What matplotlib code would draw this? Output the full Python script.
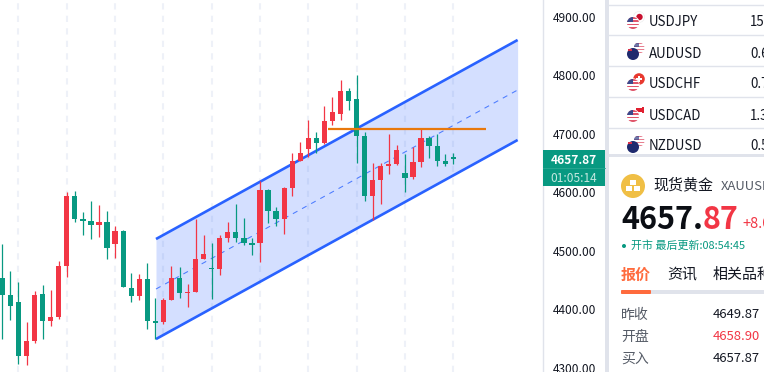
import matplotlib
matplotlib.use("Agg")
import matplotlib.pyplot as plt
from matplotlib.patches import Circle, Rectangle, FancyBboxPatch

plt.rcParams['font.family'] = ['Noto Sans CJK SC', 'DejaVu Sans']

# candles, red = up, green = down
opens = [4453.8, 4424.7, 4412.8, 4320.5, 4346.2, 4426.4, 4380.3, 4387.1, 4474.2, 4593.8,
         4554.5, 4551.1, 4544.3, 4549.4, 4511.8, 4534.0, 4436.7, 4423.0, 4452.0, 4380.3,
         4378.6, 4416.2, 4453.8, 4428.1, 4429.8, 4486.2, 4470.8, 4469.1, 4522.1, 4532.3,
         4522.1, 4513.5, 4513.5, 4604.0, 4568.2, 4554.4, 4607.4, 4653.5, 4674.0, 4692.8,
         4684.2, 4721.8, 4733.8, 4773.0, 4759.4, 4696.2, 4593.7, 4621.1, 4645.0, 4648.4,
         4633.0, 4626.2, 4651.8, 4692.8, 4679.1, 4653.5, 4658.9]
highs = [4511.8, 4465.7, 4446.9, 4378.6, 4431.6, 4441.8, 4433.3, 4482.8, 4600.6, 4602.3,
         4566.5, 4585.3, 4578.4, 4568.2, 4542.6, 4535.7, 4462.3, 4460.6, 4479.4, 4419.6,
         4419.6, 4474.2, 4472.5, 4443.5, 4554.5, 4527.2, 4513.5, 4527.2, 4549.4, 4580.1,
         4556.2, 4522.1, 4619.4, 4605.7, 4575.0, 4609.1, 4667.2, 4685.9, 4723.5, 4703.0,
         4747.4, 4762.8, 4791.8, 4778.2, 4800.4, 4703.0, 4650.1, 4650.1, 4699.6, 4680.8,
         4665.5, 4677.4, 4708.2, 4696.2, 4699.6, 4665.5, 4667.2]
lows = [4349.6, 4382.0, 4306.9, 4305.2, 4342.7, 4349.6, 4371.8, 4383.7, 4455.5, 4549.4,
        4527.2, 4520.3, 4523.8, 4486.2, 4487.9, 4438.4, 4412.8, 4416.2, 4366.6, 4349.6,
        4375.2, 4416.2, 4419.6, 4404.2, 4429.8, 4486.2, 4417.9, 4458.9, 4515.2, 4515.2,
        4510.1, 4493.0, 4481.1, 4547.7, 4542.6, 4528.8, 4593.7, 4653.5, 4660.3, 4667.2,
        4682.5, 4715.0, 4723.5, 4740.6, 4650.1, 4585.2, 4552.7, 4580.1, 4631.3, 4646.7,
        4600.6, 4622.8, 4643.3, 4658.6, 4645.0, 4645.0, 4648.4]
closes = [4424.7, 4405.9, 4320.5, 4346.2, 4424.7, 4380.3, 4387.1, 4474.2, 4593.8, 4554.5,
          4551.1, 4544.3, 4549.4, 4505.0, 4534.0, 4438.4, 4423.0, 4452.0, 4380.3, 4376.9,
          4416.2, 4453.8, 4428.1, 4429.8, 4486.2, 4494.7, 4469.1, 4522.1, 4532.3, 4522.1,
          4513.5, 4510.1, 4604.0, 4568.2, 4554.5, 4607.4, 4653.5, 4667.2, 4692.8, 4684.2,
          4721.8, 4737.2, 4773.0, 4756.0, 4696.2, 4593.7, 4621.1, 4645.0, 4648.4, 4672.3,
          4624.5, 4651.8, 4692.8, 4679.1, 4653.5, 4648.4, 4657.87]

# trend channel and resistance
channel_x = [19.08, 64.0]
channel_top = [4520.3, 4860.2]
channel_mid = [4434.9, 4774.8]
channel_bottom = [4349.5, 4689.4]
orange_x = [40.4, 60.1]
orange_y = [4708.2, 4708.2]

grid_idx = [2, 8, 14, 20, 26, 32, 38, 44, 50, 56]
price_ticks = [4300, 4400, 4500, 4600, 4700, 4800, 4900]

symbols = ["USDJPY", "AUDUSD", "USDCHF", "USDCAD", "NZDUSD"]
symbol_prices = ["15", "0.6", "0.7", "1.3", "0.5"]
row_names = ["昨收", "开盘", "买入"]
row_values = ["4649.87", "4658.90", "4657.87"]

UP = "#f23645"
DOWN = "#089981"
BLUE = "#2962ff"
LINE = "#e0e3eb"

fig = plt.figure(figsize=(7.64, 3.72), dpi=100)

# chart area, 0-542px wide
ax = fig.add_axes([0, 0, 542.5 / 764, 1])
ax.set_xlim(-0.298, 67.09)
ax.set_ylim(4293.2, 4928.5)
for s in ["top", "left", "bottom"]:
    ax.spines[s].set_visible(False)
ax.spines["right"].set_color(LINE)
ax.spines["right"].set_linewidth(1.0)
ax.yaxis.tick_right()
ax.set_yticks(price_ticks)
ax.set_yticklabels(["%.2f" % p for p in price_ticks], fontsize=8.6, color="#131722", va="center_baseline")
ax.tick_params(axis="y", length=0, pad=7.2)
ax.set_xticks([])

for g in grid_idx:
    ax.axvline(g, color="#eef1f8", lw=1.5, ls=(0, (3, 3)), zorder=1)

ax.fill_between(channel_x, channel_bottom, channel_top, color="#2962ff", alpha=0.2, lw=0, zorder=2)
ax.plot(channel_x, channel_top, color=BLUE, lw=1.9, zorder=3, solid_capstyle="butt")
ax.plot(channel_x, channel_bottom, color=BLUE, lw=1.9, zorder=3, solid_capstyle="butt")
ax.plot(channel_x, channel_mid, color=BLUE, lw=0.75, ls=(0, (5, 5)), alpha=0.8, zorder=3)

for i in range(len(opens)):
    col = UP if closes[i] >= opens[i] else DOWN
    ax.vlines(i, lows[i], highs[i], color=col, lw=0.9, zorder=4)
    bottom = min(opens[i], closes[i])
    height = abs(closes[i] - opens[i])
    if height < 2.5:
        # doji, keep it visible as a small dash
        bottom = bottom - (2.5 - height) / 2
        height = 2.5
    ax.bar(i, height, bottom=bottom, width=0.65, color=col, lw=0, zorder=5)

ax.plot(orange_x, orange_y, color="#e8780c", lw=1.6, zorder=6, solid_capstyle="butt")

# everything on the right is placed in pixels
px = fig.add_axes([0, 0, 1, 1])
px.set_xlim(0, 764)
px.set_ylim(372, 0)
px.axis("off")
px.patch.set_alpha(0)


def flag_us(cx, cy, r, alpha=1.0):
    base = Circle((cx, cy), r, color="#ffffff", alpha=alpha, zorder=3)
    px.add_patch(base)
    for k in range(4):
        st = Rectangle((cx - r, cy - r + k * r * 0.55), 2 * r, r * 0.28, color="#e0566b", alpha=alpha, lw=0, zorder=3.1)
        px.add_patch(st)
        st.set_clip_path(base)
    can = Rectangle((cx - r, cy - r), r, r * 0.9, color="#3c4a8c", alpha=alpha, lw=0, zorder=3.2)
    px.add_patch(can)
    can.set_clip_path(base)


def draw_icon(name, cx, cy):
    if name == "USDJPY":
        px.add_patch(Circle((cx + 6, cy - 6), 5.5, color="#ffffff", ec="#eeeeee", lw=0.5, zorder=2))
        px.add_patch(Circle((cx + 6.5, cy - 6), 3.2, color="#c8102e", lw=0, zorder=2.5))
        flag_us(cx, cy, 6)
    elif name in ("AUDUSD", "NZDUSD"):
        flag_us(cx + 6, cy - 6, 5.5, alpha=0.75)
        px.add_patch(Circle((cx, cy), 6, color="#1f2a6e", lw=0, zorder=4))
        px.add_patch(Rectangle((cx - 5, cy - 5), 4, 2, color="#d8304a", lw=0, zorder=4.1))
    elif name == "USDCHF":
        px.add_patch(Circle((cx + 6, cy - 6), 5.8, color="#e8392f", lw=0, zorder=2))
        px.add_patch(Rectangle((cx + 5, cy - 9), 2, 6, color="#ffffff", lw=0, zorder=2.1))
        px.add_patch(Rectangle((cx + 3, cy - 7), 6, 2, color="#ffffff", lw=0, zorder=2.1))
        flag_us(cx, cy, 6)
    else:
        px.add_patch(Circle((cx + 6, cy - 6), 5.5, color="#ffffff", lw=0, zorder=2))
        px.add_patch(Rectangle((cx + 3, cy - 8), 6, 4, color="#e02030", lw=0, zorder=2.1))
        px.add_patch(Rectangle((cx + 9, cy - 9), 2, 6, color="#e02030", lw=0, zorder=2.1))
        flag_us(cx, cy, 6)


# divider between axis and right panel
px.add_patch(Rectangle((605, 0), 4, 372, color="#e0e3eb", lw=0))
px.add_patch(Rectangle((609, 153.5), 155, 3.5, color="#e0e3eb", lw=0))
for yy in [4.5, 35, 66, 97, 128]:
    px.plot([609, 764], [yy, yy], color=LINE, lw=1)

for k in range(len(symbols)):
    yy = 21 + 31 * k
    draw_icon(symbols[k], 633, yy + 2)
    px.text(649, yy, symbols[k], fontsize=9.6, color="#131722", va="center_baseline", ha="left", clip_on=True)
    px.text(750, yy, symbol_prices[k], fontsize=9.6, color="#131722", va="center_baseline", ha="left", clip_on=True)

# price tag on the axis
px.add_patch(Rectangle((543, 150), 62, 36, color=DOWN, lw=0))
px.plot([543, 605], [167.5, 167.5], color="#2aa892", lw=0.6)
px.text(574, 158.5, "4657.87", fontsize=8.6, color="white", va="center_baseline", ha="center", fontweight="bold")
px.text(574, 176.5, "01:05:14", fontsize=8.6, color="#c4e8e0", va="center_baseline", ha="center")

# gold header
px.add_patch(Circle((633, 186), 12, color="#f0bf45", lw=0))
px.add_patch(Rectangle((630, 180), 6, 4.5, color="white", lw=0))
px.add_patch(Rectangle((625.5, 186), 6, 4.5, color="white", lw=0))
px.add_patch(Rectangle((634, 186), 6, 4.5, color="white", lw=0))
px.text(653, 185, "现货黄金", fontsize=10.8, color="#131722", va="center", ha="left")
px.text(721, 186, "XAUUSD", fontsize=9.4, color="#555b66", va="center", ha="left", clip_on=True)

px.text(621, 220, "4657.", fontsize=22, color="#0b0e14", fontweight="bold", va="center", ha="left")
px.text(703, 220, "87", fontsize=22, color=UP, fontweight="bold", va="center", ha="left")
px.text(742, 224, "+8.0", fontsize=10.5, color=UP, va="center", ha="left", clip_on=True)

px.add_patch(Circle((624, 246), 2, color=DOWN, lw=0))
px.text(631, 246, "开市 最后更新:08:54:45", fontsize=7.9, color=DOWN, va="center", ha="left")

px.text(621, 275, "报价", fontsize=10.8, color="#ff6b3d", fontweight="bold", va="center", ha="left")
px.text(667, 275, "资讯", fontsize=10.8, color="#131722", va="center", ha="left")
px.text(713, 275, "相关品种", fontsize=10.8, color="#131722", va="center", ha="left", clip_on=True)
px.add_patch(Rectangle((621, 290), 143, 4, color="#e0e3eb", lw=0))
px.add_patch(FancyBboxPatch((622, 291), 28, 2, boxstyle="round,pad=1", color="#ff6b3d", lw=0))

for k in range(len(row_names)):
    yy = 315 + 22 * k
    px.text(621, yy, row_names[k], fontsize=10, color="#555b66", va="center", ha="left")
    col = UP if row_names[k] == "开盘" else "#131722"
    px.text(713, yy, row_values[k], fontsize=9.4, color=col, va="center", ha="left")

fig.savefig("out.png", dpi=100)
